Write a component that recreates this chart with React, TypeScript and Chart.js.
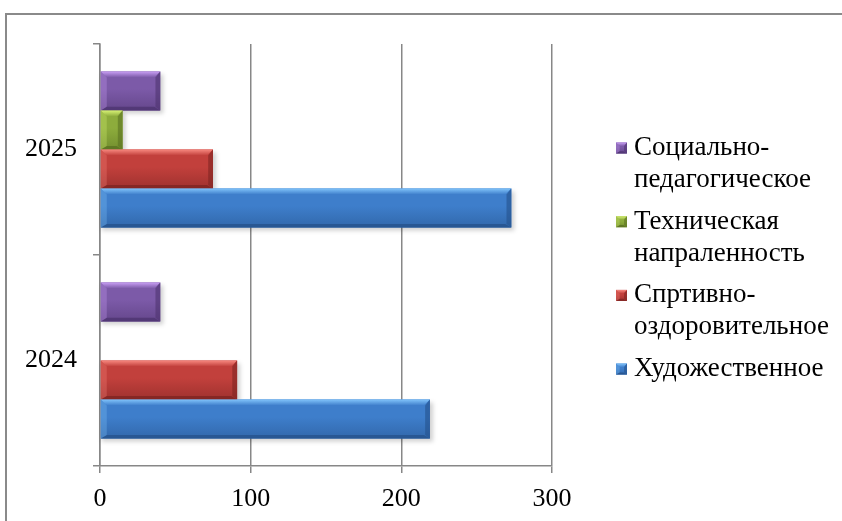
import React, { useEffect, useRef } from "react";
import { Chart, registerables } from "chart.js";

Chart.register(...registerables);

const years = ["2025", "2024"];
const seriesNames = [
  ["Социально-", "педагогическое"],
  ["Техническая", "напраленность"],
  ["Спртивно-", "оздоровительное"],
  ["Художественное"],
];
const socialValues = [40, 40];
const techValues = [15, 0];
const sportValues = [75, 91];
const artValues = [273, 219];
const xTicks = [0, 100, 200, 300];

const baseColors = ["#7c5aa8", "#8dac3c", "#c2403c", "#3e7ecb"];
const lightColors = ["#c99ff4", "#d8f275", "#f7887f", "#80c3fa"];
const darkColors = ["#4e3470", "#5a7222", "#7e2422", "#25528c"];

const FONT = "'Liberation Serif', 'Times New Roman', serif";

function bevelBar(ctx: CanvasRenderingContext2D, l: number, t: number, r: number, b: number, i: number) {
  const w = r - l;
  const h = b - t;
  if (w < 1 || h < 1) return;
  const bv = Math.min(6, w / 3, h / 3);
  const g = ctx.createLinearGradient(0, t, 0, b);
  g.addColorStop(0, baseColors[i]);
  g.addColorStop(0.45, baseColors[i]);
  g.addColorStop(1, darkColors[i]);
  ctx.save();
  ctx.globalAlpha = 0.5;
  ctx.fillStyle = g;
  ctx.fillRect(l, t, w, h);
  ctx.globalAlpha = 1;
  // top bevel
  const gt = ctx.createLinearGradient(0, t, 0, t + bv);
  gt.addColorStop(0, lightColors[i]);
  gt.addColorStop(1, baseColors[i]);
  ctx.fillStyle = gt;
  ctx.beginPath();
  ctx.moveTo(l, t);
  ctx.lineTo(r, t);
  ctx.lineTo(r - bv, t + bv);
  ctx.lineTo(l + bv, t + bv);
  ctx.closePath();
  ctx.fill();
  // bottom bevel
  ctx.fillStyle = darkColors[i];
  ctx.globalAlpha = 0.8;
  ctx.beginPath();
  ctx.moveTo(l, b);
  ctx.lineTo(r, b);
  ctx.lineTo(r - bv, b - bv * 0.6);
  ctx.lineTo(l + bv, b - bv * 0.6);
  ctx.closePath();
  ctx.fill();
  // right bevel
  ctx.globalAlpha = 0.6;
  ctx.beginPath();
  ctx.moveTo(r, t);
  ctx.lineTo(r, b);
  ctx.lineTo(r - bv * 0.8, b - bv * 0.6);
  ctx.lineTo(r - bv * 0.8, t + bv);
  ctx.closePath();
  ctx.fill();
  // left bevel
  ctx.globalAlpha = 0.3;
  ctx.fillStyle = lightColors[i];
  ctx.beginPath();
  ctx.moveTo(l, t);
  ctx.lineTo(l + bv, t + bv);
  ctx.lineTo(l + bv, b - bv * 0.6);
  ctx.lineTo(l, b);
  ctx.closePath();
  ctx.fill();
  ctx.restore();
}

const bevelPlugin = {
  id: "bevel",
  beforeDatasetsDraw(chart: any) {
    const ctx = chart.ctx as CanvasRenderingContext2D;
    ctx.save();
    ctx.fillStyle = "rgba(0,0,0,0.18)";
    ctx.filter = "blur(2px)";
    chart.data.datasets.forEach((_: any, di: number) => {
      chart.getDatasetMeta(di).data.forEach((el: any) => {
        const l = Math.min(el.x, el.base);
        const r = Math.max(el.x, el.base);
        if (r - l < 1) return;
        ctx.fillRect(l + 1, el.y - el.height / 2 + 3, r - l + 2, el.height);
      });
    });
    ctx.restore();
  },
  afterDatasetsDraw(chart: any) {
    const ctx = chart.ctx as CanvasRenderingContext2D;
    chart.data.datasets.forEach((_: any, di: number) => {
      chart.getDatasetMeta(di).data.forEach((el: any) => {
        const l = Math.min(el.x, el.base);
        const r = Math.max(el.x, el.base);
        bevelBar(ctx, l, el.y - el.height / 2, r, el.y + el.height / 2, di);
      });
    });
  },
};

const legendPlugin = {
  id: "customLegend",
  afterDraw(chart: any) {
    const ctx = chart.ctx as CanvasRenderingContext2D;
    const boxX = 616;
    const textX = 634;
    const firstY = 148;
    const step = 73.7;
    const lineH = 32;
    ctx.save();
    ctx.font = `27px ${FONT}`;
    ctx.textBaseline = "middle";
    ctx.textAlign = "left";
    ctx.fillStyle = "#000";
    chart.data.datasets.forEach((ds: any, di: number) => {
      const y = firstY + di * step;
      ctx.fillStyle = baseColors[di];
      ctx.fillRect(boxX, y - 5.5, 11, 11);
      bevelBar(ctx, boxX, y - 5.5, boxX + 11, y + 5.5, di);
      ctx.fillStyle = "#000";
      const lines: string[] = ds.legendLines;
      lines.forEach((line, li) => ctx.fillText(line, textX, y + li * lineH));
    });
    ctx.restore();
  },
};

export default function App() {
  const ref = useRef<HTMLCanvasElement>(null);
  useEffect(() => {
    if (!ref.current) return;
    const values = [socialValues, techValues, sportValues, artValues];
    const chart = new Chart(ref.current, {
      type: "bar",
      data: {
        labels: years,
        datasets: values.map((v, i) => ({
          label: seriesNames[i].join(" "),
          legendLines: seriesNames[i],
          data: v,
          backgroundColor: baseColors[i],
          borderWidth: 0,
          categoryPercentage: 0.74,
          barPercentage: 1,
        })) as any,
      },
      options: {
        indexAxis: "y",
        animation: false,
        responsive: true,
        maintainAspectRatio: false,
        layout: { padding: { top: 44, right: 290, left: 0, bottom: 0 } },
        plugins: { legend: { display: false }, tooltip: { enabled: false } },
        scales: {
          x: {
            min: 0,
            max: 300,
            afterBuildTicks: (s: any) => {
              s.ticks = xTicks.map((v) => ({ value: v }));
            },
            afterFit: (s: any) => {
              s.height = 55;
            },
            ticks: {
              color: "#000",
              font: { family: FONT, size: 26 },
              padding: 11,
              maxRotation: 0,
            },
            grid: { color: "#878787", lineWidth: 1.5, tickLength: 7 },
            border: { display: true, color: "#878787", width: 1.5 },
          },
          y: {
            afterFit: (s: any) => {
              s.width = 100;
            },
            ticks: {
              color: "#000",
              font: { family: FONT, size: 26 },
              padding: 16,
            },
            grid: {
              drawOnChartArea: false,
              color: "#878787",
              lineWidth: 1.5,
              tickLength: 7,
              offset: true,
            },
            border: { display: true, color: "#878787", width: 1.5 },
          },
        },
      },
      plugins: [bevelPlugin, legendPlugin],
    });
    return () => chart.destroy();
  }, []);
  return (
    <div style={{ position: "fixed", left: 0, top: 0, width: 842, height: 521, overflow: "hidden", background: "#fff" }}>
      <div style={{ position: "absolute", left: 5, top: 13, width: 900, height: 600, border: "2px solid #8a8a8a" }} />
      <div style={{ position: "absolute", left: 0, top: 0, width: 842, height: 521 }}>
        <canvas ref={ref} />
      </div>
    </div>
  );
}
